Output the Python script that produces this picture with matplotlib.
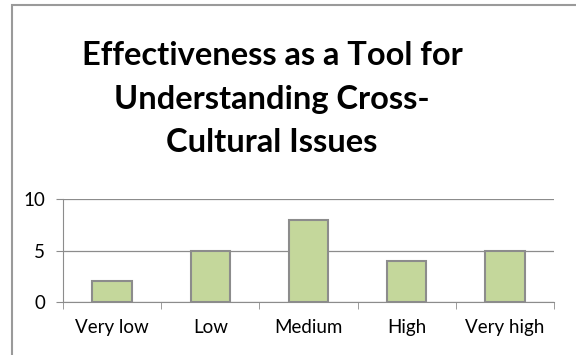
import matplotlib.pyplot as plt
from matplotlib.patches import Rectangle

categories = ["Very low", "Low", "Medium", "High", "Very high"]
counts = [2, 5, 8, 4, 5]
y_ticks = [0, 5, 10]
title = "Effectiveness as a Tool for\nUnderstanding Cross-\nCultural Issues"

fig = plt.figure(figsize=(5.76, 3.55), dpi=100)

# outer chart frame (cut off at right and bottom)
fig.patches.append(Rectangle((12 / 576, -0.1), 1.2, 1 - 5 / 355 + 0.1,
                             transform=fig.transFigure, fill=False,
                             edgecolor="#9a9a9a", linewidth=1.5))

ax = fig.add_axes([63 / 576, 1 - 302 / 355, 491 / 576, 103 / 355])

x = list(range(len(categories)))
ax.bar(x, counts, width=0.4, color="#c4d79b", edgecolor="#8c8c8c",
       linewidth=1.5, zorder=3)

ax.set_xlim(-0.5, len(categories) - 0.5)
ax.set_ylim(0, 10)
ax.set_yticks(y_ticks)
ax.yaxis.grid(True, color="#8c8c8c", linewidth=0.9, zorder=0)

ax.set_xticks(x)
ax.set_xticklabels(categories, fontsize=13.5, family="Lato")
ax.set_xticks([i + 0.5 for i in range(-1, len(categories))], minor=True)
ax.tick_params(axis="x", which="major", length=0, pad=12)
ax.tick_params(axis="x", which="minor", length=5, color="#8c8c8c")
ax.tick_params(axis="y", labelsize=13.5, length=5, color="#8c8c8c", pad=8)
for lab in ax.get_yticklabels():
    lab.set_family("Lato")

for s in ["top", "right"]:
    ax.spines[s].set_visible(False)
ax.spines["left"].set_color("#8c8c8c")
ax.spines["bottom"].set_color("#8c8c8c")

fig.text(272 / 576, 1 - 99 / 355, title, ha="center", va="center",
         fontsize=23.5, fontweight="bold", family="Lato", linespacing=1.6)

fig.savefig("out.png", dpi=100)
